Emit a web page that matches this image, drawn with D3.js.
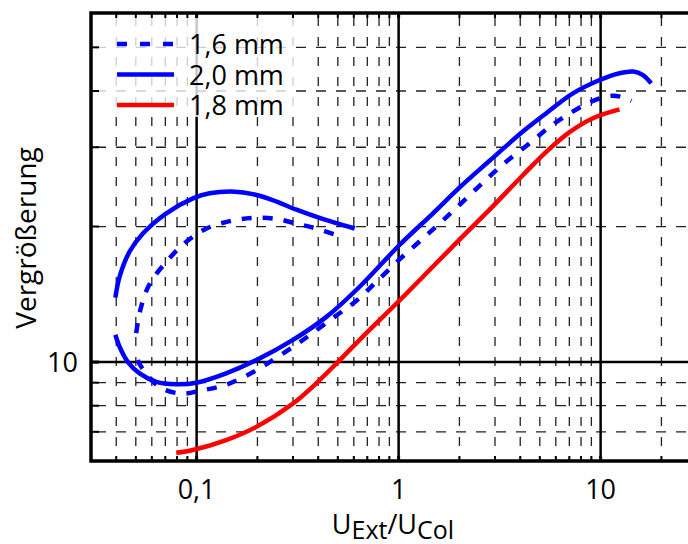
<!DOCTYPE html>
<html>
<head>
<meta charset="utf-8">
<script src="https://cdn.jsdelivr.net/npm/d3@7"></script>
<style>
  body { margin: 0; background: #fff; }
  svg { display: block; }
  text { font-family: "Open Sans", sans-serif; fill: #000; }
</style>
</head>
<body>
<div id="chart"></div>
<script>
// values: [U_Ext/U_Col, Vergrößerung]
const solid20Upper = [[0.0396,13.9],[0.0416,15.5],[0.0466,17.6],[0.0542,19.3],[0.0708,21.4],[0.0959,23.1],[0.116,23.7],[0.155,23.9],[0.19,23.6],[0.238,22.9],[0.312,21.8],[0.42,20.8],[0.606,19.8]];
const solid20Lower = [[0.0396,11.5],[0.0416,10.8],[0.0457,10.0],[0.0522,9.44],[0.0632,9.04],[0.0793,8.93],[0.0997,9.0],[0.14,9.44],[0.1975,10.1],[0.30,11.2],[0.439,12.6],[0.641,14.7],[1.01,18.2],[1.48,21.4],[2.0,24.4],[2.82,28.0],[4.12,32.5],[5.38,35.7],[7.29,39.5],[9.89,42.3],[12.4,43.8],[14.5,44.2],[16.2,43.4],[17.8,41.6]];
const dash16Upper = [[0.0502,11.6],[0.0532,13.3],[0.0585,14.9],[0.0708,16.7],[0.0889,18.5],[0.112,19.8],[0.149,20.6],[0.19,20.9],[0.248,20.8],[0.312,20.3],[0.391,19.8],[0.492,19.15]];
const dash16Lower = [[0.051,10.1],[0.0537,9.7],[0.0656,8.8],[0.0843,8.51],[0.107,8.66],[0.138,8.89],[0.179,9.36],[0.23,10.0],[0.299,10.8],[0.375,11.6],[0.493,12.7],[0.62,13.7],[0.778,15.1],[1.01,16.9],[1.315,18.8],[1.65,20.6],[2.12,22.9],[2.73,25.5],[3.42,27.9],[4.45,30.6],[5.65,33.4],[7.27,36.0],[8.92,37.8],[11.1,39.0],[12.7,38.8],[14.2,38.0]];
const red18 = [[0.0793,6.29],[0.0959,6.38],[0.14,6.71],[0.1975,7.18],[0.30,8.09],[0.391,8.97],[0.50,10.0],[0.692,11.6],[1.01,13.7],[1.48,16.3],[2.0,18.7],[2.82,21.8],[4.12,26.0],[5.38,29.3],[7.02,32.4],[9.16,34.8],[12.4,36.4]];

const xTicks = [0.04,0.05,0.06,0.07,0.08,0.09,0.1,0.2,0.3,0.4,0.5,0.6,0.7,0.8,0.9,1,2,3,4,5,6,7,8,9,10,20];
const xMajor = [0.1, 1, 10];
const xLabels = ["0,1", "1", "10"];
const yTicks = [7, 8, 9, 10, 20, 30, 40, 50];
const yMajor = [10];
const yLabels = ["10"];

const legendNames = ["1,6 mm", "2,0 mm", "1,8 mm"];

const W = 688, H = 544;

const svg = d3.select("#chart").append("svg")
    .attr("width", W)
    .attr("height", H);

// plot runs off the right edge of the picture
const x = d3.scaleLog().domain([0.03, 30]).range([91, 697]);
const y = d3.scaleLog().domain([6.03, 59.6]).range([461, 13]);

const plotTop = y.range()[1], plotBottom = y.range()[0], plotLeft = x.range()[0];

// dashed grid
svg.append("g").selectAll("line")
    .data(xTicks.filter(d => xMajor.indexOf(d) == -1))
    .enter().append("line")
    .attr("x1", d => x(d)).attr("x2", d => x(d))
    .attr("y1", plotTop).attr("y2", plotBottom)
    .attr("stroke", "#222").attr("stroke-width", 1.3)
    .attr("stroke-dasharray", "9,11").attr("stroke-dashoffset", -4);

svg.append("g").selectAll("line")
    .data(yTicks.filter(d => yMajor.indexOf(d) == -1))
    .enter().append("line")
    .attr("x1", plotLeft).attr("x2", W)
    .attr("y1", d => y(d)).attr("y2", d => y(d))
    .attr("stroke", "#222").attr("stroke-width", 1.3)
    .attr("stroke-dasharray", "10,10").attr("stroke-dashoffset", -5);

// solid grid at decades
svg.append("g").selectAll("line")
    .data(xMajor).enter().append("line")
    .attr("x1", d => x(d)).attr("x2", d => x(d))
    .attr("y1", plotTop).attr("y2", plotBottom)
    .attr("stroke", "#000").attr("stroke-width", 2.5);

svg.append("g").selectAll("line")
    .data(yMajor).enter().append("line")
    .attr("x1", plotLeft).attr("x2", W)
    .attr("y1", d => y(d)).attr("y2", d => y(d))
    .attr("stroke", "#000").attr("stroke-width", 2.5);

// legend background
svg.append("rect")
    .attr("x", plotLeft + 1).attr("y", plotTop + 1)
    .attr("width", 202).attr("height", 103)
    .attr("fill", "#fff").attr("fill-opacity", 0.78);

// inward ticks, bottom / top / left
svg.append("g").selectAll("line")
    .data(xTicks).enter().append("line")
    .attr("x1", d => x(d)).attr("x2", d => x(d))
    .attr("y1", plotBottom).attr("y2", plotBottom - 5)
    .attr("stroke", "#000").attr("stroke-width", d => xMajor.indexOf(d) == -1 ? 2 : 3);

svg.append("g").selectAll("line")
    .data(xTicks).enter().append("line")
    .attr("x1", d => x(d)).attr("x2", d => x(d))
    .attr("y1", plotTop).attr("y2", plotTop + 5)
    .attr("stroke", "#000").attr("stroke-width", d => xMajor.indexOf(d) == -1 ? 2 : 3);

svg.append("g").selectAll("line")
    .data(yTicks).enter().append("line")
    .attr("x1", plotLeft).attr("x2", plotLeft + 8)
    .attr("y1", d => y(d)).attr("y2", d => y(d))
    .attr("stroke", "#000").attr("stroke-width", d => yMajor.indexOf(d) == -1 ? 2 : 3);

// frame (open on the right, cut by the picture)
svg.append("path")
    .attr("d", `M${W},${plotTop}H${plotLeft}V${plotBottom}H${W}`)
    .attr("fill", "none")
    .attr("stroke", "#000")
    .attr("stroke-width", 3.5);

// curves
const line = d3.line()
    .x(d => x(d[0]))
    .y(d => y(d[1]))
    .curve(d3.curveCatmullRom.alpha(0.5));

const series = [
    {data: solid20Upper, color: "#0000ff", dash: null},
    {data: solid20Lower, color: "#0000ff", dash: null},
    {data: dash16Upper, color: "#0000ff", dash: "10,11"},
    {data: dash16Lower, color: "#0000ff", dash: "10,11"},
    {data: red18, color: "#ff0000", dash: null}
];

svg.append("g").selectAll("path")
    .data(series).enter().append("path")
    .attr("d", d => line(d.data))
    .attr("fill", "none")
    .attr("stroke", d => d.color)
    .attr("stroke-width", 4.5)
    .attr("stroke-dasharray", d => d.dash);

// legend
const legendColors = ["#0000ff", "#0000ff", "#ff0000"];
const legendDash = ["10,13", null, null];
const lg = svg.append("g");
legendNames.forEach(function(name, i) {
    let ly = 44 + i * 30.5;
    lg.append("line")
        .attr("x1", 117).attr("x2", 174)
        .attr("y1", ly).attr("y2", ly)
        .attr("stroke", legendColors[i])
        .attr("stroke-width", 4.5)
        .attr("stroke-dasharray", legendDash[i]);
    lg.append("text")
        .attr("x", 189).attr("y", ly + 10)
        .attr("font-size", 27)
        .text(name);
});

// tick labels
svg.append("g").selectAll("text")
    .data(xMajor).enter().append("text")
    .attr("x", d => x(d)).attr("y", 499)
    .attr("text-anchor", "middle")
    .attr("font-size", 27)
    .text((d, i) => xLabels[i]);

svg.append("g").selectAll("text")
    .data(yMajor).enter().append("text")
    .attr("x", 78).attr("y", d => y(d) + 10)
    .attr("text-anchor", "end")
    .attr("font-size", 27)
    .text((d, i) => yLabels[i]);

// axis titles
let xt = svg.append("text")
    .attr("x", 393).attr("y", 534)
    .attr("text-anchor", "middle")
    .attr("font-size", 27);
xt.append("tspan").text("U");
xt.append("tspan").attr("dy", 5).attr("font-size", 25).text("Ext");
xt.append("tspan").attr("dy", -5).text("/U");
xt.append("tspan").attr("dy", 5).attr("font-size", 25).text("Col");

svg.append("text")
    .attr("transform", "translate(36,238) rotate(-90)")
    .attr("text-anchor", "middle")
    .attr("font-size", 28)
    .text("Vergrößerung");
</script>
</body>
</html>
